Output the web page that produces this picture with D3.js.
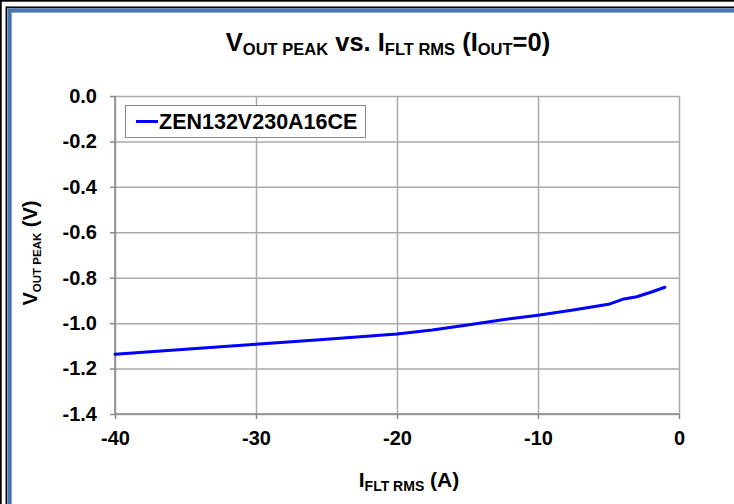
<!DOCTYPE html>
<html>
<head>
<meta charset="utf-8">
<script src="https://cdn.jsdelivr.net/npm/d3@7"></script>
<style>
  body { margin: 0; background: #fff; }
  svg { display: block; font-family: Arial, "Liberation Sans", sans-serif; }
  .axis text { font-size: 20px; font-weight: bold; fill: #000; }
  .axis path, .axis line { stroke: #888; stroke-width: 1.5; }
  .grid line { stroke: #aaa; stroke-width: 1.5; }
  .grid path { display: none; }
</style>
</head>
<body>
<svg id="chart" width="734" height="504"></svg>
<script>
  // values
  var seriesName = "ZEN132V230A16CE";
  var iflt = [-40, -35, -30, -25, -20, -17.5, -15, -12.5, -10, -7.5, -5, -4, -3, -2, -1];
  var vout = [-1.137, -1.115, -1.093, -1.071, -1.048, -1.030, -1.008, -0.985, -0.965, -0.942, -0.917, -0.895, -0.884, -0.864, -0.842];
  var xTicks = [-40, -30, -20, -10, 0];
  var yTicks = [0, -0.2, -0.4, -0.6, -0.8, -1.0, -1.2, -1.4];

  var svg = d3.select("#chart");

  /* frame round the picture */
  svg.append("rect").attr("x", 0.85).attr("y", 0.85).attr("width", 760).attr("height", 530)
    .attr("fill", "none").attr("stroke", "#000").attr("stroke-width", 1.7);
  svg.append("rect").attr("x", 6.3).attr("y", 7.2).attr("width", 760).attr("height", 530)
    .attr("fill", "none").attr("stroke", "#000").attr("stroke-width", 1.5);
  svg.append("rect").attr("x", 9.5).attr("y", 10.4).attr("width", 760).attr("height", 530)
    .attr("fill", "none").attr("stroke", "#4a76b0").attr("stroke-width", 4.4);

  var pLeft = 115, pRight = 679, pTop = 96, pBottom = 414;

  var x = d3.scaleLinear().domain([-40, 0]).range([pLeft, pRight]);
  var y = d3.scaleLinear().domain([0, -1.4]).range([pTop, pBottom]);

  // plain hyphen for negatives, like the reference
  var fmtX = function(d) { return String(d); };
  var fmtY = function(d) { return d.toFixed(1).replace("-0.0", "0.0"); };

  /* gridlines */
  svg.append("g").attr("class", "grid")
    .attr("transform", "translate(0," + pBottom + ")")
    .call(d3.axisBottom(x).tickValues(xTicks).tickSize(-(pBottom - pTop)).tickFormat(""));
  svg.append("g").attr("class", "grid")
    .attr("transform", "translate(" + pLeft + ",0)")
    .call(d3.axisLeft(y).tickValues(yTicks).tickSize(-(pRight - pLeft)).tickFormat(""));

  /* axes */
  var xAxis = svg.append("g").attr("class", "axis")
    .attr("transform", "translate(0," + pBottom + ")")
    .call(d3.axisBottom(x).tickValues(xTicks).tickSize(5).tickPadding(12).tickFormat(fmtX));
  xAxis.select(".domain").attr("d", "M" + pLeft + ",0H" + pRight);

  var yAxis = svg.append("g").attr("class", "axis")
    .attr("transform", "translate(" + pLeft + ",0)")
    .call(d3.axisLeft(y).tickValues(yTicks).tickSize(5).tickPadding(13).tickFormat(fmtY));
  yAxis.select(".domain").attr("d", "M0," + pTop + "V" + pBottom);

  /* the curve */
  var pts = iflt.map(function(d, i) { return [d, vout[i]]; });
  var line = d3.line().x(function(d) { return x(d[0]); }).y(function(d) { return y(d[1]); });
  svg.append("path").datum(pts)
    .attr("d", line)
    .attr("fill", "none")
    .attr("stroke", "#0000ff")
    .attr("stroke-width", 3)
    .attr("stroke-linejoin", "round")
    .attr("stroke-linecap", "round");

  /* legend */
  var lg = svg.append("g").attr("transform", "translate(125,105)");
  lg.append("rect").attr("x", 0.5).attr("y", 0.5).attr("width", 240).attr("height", 32)
    .attr("fill", "#fff").attr("stroke", "#888").attr("stroke-width", 1);
  lg.append("line").attr("x1", 11).attr("x2", 33).attr("y1", 16.5).attr("y2", 16.5)
    .attr("stroke", "#0000ff").attr("stroke-width", 3);
  lg.append("text").attr("x", 34).attr("y", 23.5)
    .style("font-size", "21.5px").style("font-weight", "bold")
    .text(seriesName);

  /* titles with subscripts */
  function richText(sel, parts, big, small) {
    parts.forEach(function(p) {
      sel.append("tspan")
        .style("font-size", (p[1] ? small : big) + "px")
        .attr("dy", p[2] || 0)
        .text(p[0]);
    });
  }

  var title = svg.append("text").attr("x", 388).attr("y", 51)
    .attr("text-anchor", "middle").style("font-weight", "bold");
  richText(title, [["V"], ["OUT PEAK", 1, 4], [" vs. I", 0, -4], ["FLT RMS", 1, 4],
    [" (I", 0, -4], ["OUT", 1, 4], ["=0)", 0, -4]], 25.5, 16.5);

  var xLabel = svg.append("text").attr("x", 409).attr("y", 487)
    .attr("text-anchor", "middle").style("font-weight", "bold");
  richText(xLabel, [["I"], ["FLT RMS", 1, 4], [" (A)", 0, -4]], 21, 14);

  var yLabel = svg.append("text").attr("transform", "translate(37,253) rotate(-90)")
    .attr("text-anchor", "middle").style("font-weight", "bold");
  richText(yLabel, [["V"], ["OUT PEAK", 1, 4], [" (V)", 0, -4]], 20, 11.5);
</script>
</body>
</html>
